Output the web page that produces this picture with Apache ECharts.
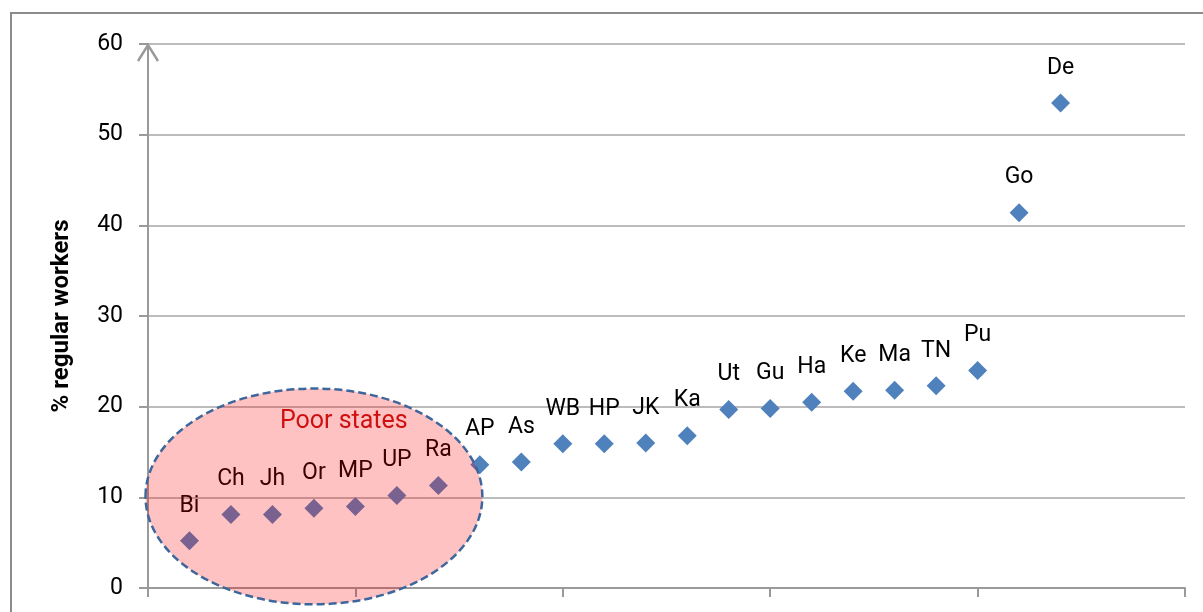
<!DOCTYPE html>
<html>
<head>
<meta charset="utf-8">
<script src="https://cdn.jsdelivr.net/npm/echarts@6/dist/echarts.min.js"></script>
<style>
  html, body { margin: 0; padding: 0; background: #fff; }
  #chart { width: 1203px; height: 612px; }
</style>
</head>
<body>
<div id="chart"></div>
<script>
// State abbreviations, ordered by share of regular workers
const states = ['Bi', 'Ch', 'Jh', 'Or', 'MP', 'UP', 'Ra', 'AP', 'As', 'WB', 'HP',
  'JK', 'Ka', 'Ut', 'Gu', 'Ha', 'Ke', 'Ma', 'TN', 'Pu', 'Go', 'De'];
// % regular workers
const regularShare = [5.2, 8.1, 8.1, 8.8, 9.0, 10.2, 11.3, 13.6, 13.9, 15.9, 15.9,
  16.0, 16.8, 19.7, 19.8, 20.5, 21.7, 21.8, 22.3, 24.0, 41.4, 53.5];
const yTicks = [0, 10, 20, 30, 40, 50, 60];

// Highlighted group (data coordinates)
const poorGroup = { label: 'Poor states', cx: 4.0, cy: 10.1, rx: 4.06, ry: 11.9, textX: 4.72, textY: 18.3 };

const FONT = 'Roboto, "Liberation Sans", sans-serif';
const AXIS_GREY = '#9a9a9a';
const chart = echarts.init(document.getElementById('chart'));

const points = states.map((s, i) => ({ name: s, value: [i + 1, regularShare[i]] }));

chart.setOption({
  animation: false,
  backgroundColor: '#ffffff',
  grid: { left: 148, right: 18, top: 44, bottom: 24, containLabel: false },
  xAxis: {
    type: 'value', min: 0, max: 25, interval: 5,
    axisLine: { show: true, lineStyle: { color: AXIS_GREY, width: 2 } },
    axisTick: { show: true, inside: false, length: 9, lineStyle: { color: AXIS_GREY, width: 2 } },
    axisLabel: { show: false },
    splitLine: { show: false }
  },
  yAxis: {
    type: 'value', min: yTicks[0], max: yTicks[yTicks.length - 1], interval: 10,
    name: '% regular workers', nameLocation: 'middle', nameGap: 74, nameRotate: 90,
    nameTextStyle: { fontFamily: FONT, fontSize: 24, fontWeight: 'bold', color: '#000' },
    axisLine: { show: true, lineStyle: { color: AXIS_GREY, width: 2 } },
    axisTick: { show: true, inside: false, length: 9, lineStyle: { color: AXIS_GREY, width: 2 } },
    axisLabel: { fontFamily: FONT, fontSize: 23, color: '#000', margin: 25 },
    splitLine: { show: true, lineStyle: { color: '#a6a6a6', width: 1.5 } }
  },
  series: [{
    type: 'scatter',
    symbol: 'diamond',
    symbolSize: 19,
    itemStyle: { color: '#4f81bd', opacity: 1 },
    label: {
      show: true, position: 'top', distance: 14,
      formatter: p => p.name,
      fontFamily: FONT, fontSize: 23, color: '#000'
    },
    data: points
  }]
});

// Outer frame, axis arrow head and the shaded group overlay, placed through the axis scales
function drawOverlay() {
  const c = chart.convertToPixel({ gridIndex: 0 }, [poorGroup.cx, poorGroup.cy]);
  const ex = chart.convertToPixel({ gridIndex: 0 }, [poorGroup.cx + poorGroup.rx, poorGroup.cy + poorGroup.ry]);
  const t = chart.convertToPixel({ gridIndex: 0 }, [poorGroup.textX, poorGroup.textY]);
  const top = chart.convertToPixel({ gridIndex: 0 }, [0, yTicks[yTicks.length - 1]]);
  chart.setOption({
    graphic: [
      {
        type: 'rect', z: 1, silent: true,
        shape: { x: 11, y: 13, width: 1400, height: 800 },
        style: { fill: 'none', stroke: '#8c8c8c', lineWidth: 2 }
      },
      {
        type: 'polyline', z: 50, silent: true,
        shape: { points: [[top[0] - 10, top[1] + 17], [top[0], top[1] + 1], [top[0] + 10, top[1] + 17]] },
        style: { fill: 'none', stroke: AXIS_GREY, lineWidth: 2.5 }
      },
      {
        type: 'ellipse', z: 100, silent: true,
        shape: { cx: c[0], cy: c[1], rx: ex[0] - c[0], ry: c[1] - ex[1] },
        style: { fill: 'rgba(255, 0, 0, 0.24)', stroke: '#3d679c', lineWidth: 2.5, lineDash: [8, 4] }
      },
      {
        type: 'text', z: 101, silent: true,
        x: t[0], y: t[1],
        style: { text: poorGroup.label, fill: '#d01010', font: '25px ' + FONT, align: 'center', verticalAlign: 'middle' }
      }
    ]
  });
}
drawOverlay();
</script>
</body>
</html>
